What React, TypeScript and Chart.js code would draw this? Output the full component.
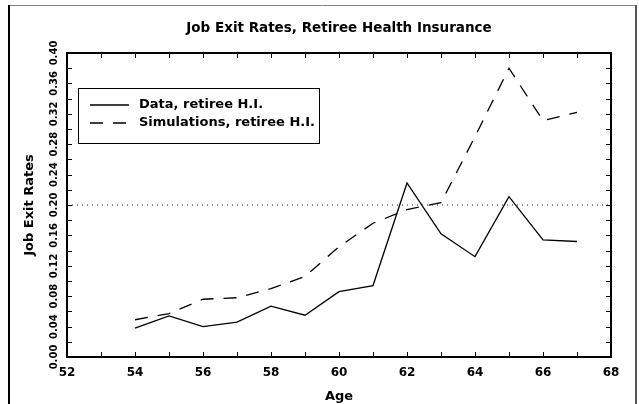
import React, { useEffect, useRef } from "react";
import { Chart, registerables } from "chart.js";

Chart.register(...registerables);

const chartTitle = "Job Exit Rates, Retiree Health Insurance";
const xAxisTitle = "Age";
const yAxisTitle = "Job Exit Rates";
const seriesLabels = ["Data, retiree H.I.", "Simulations, retiree H.I."];

const ages = [54, 55, 56, 57, 58, 59, 60, 61, 62, 63, 64, 65, 66, 67];
const dataRates = [0.038, 0.054, 0.04, 0.046, 0.067, 0.055, 0.086, 0.094, 0.229, 0.162, 0.132, 0.211, 0.154, 0.152];
const simRates = [0.049, 0.057, 0.076, 0.078, 0.09, 0.106, 0.145, 0.176, 0.194, 0.203, 0.29, 0.38, 0.311, 0.322];
const referenceRate = 0.2;

const xRange = [52, 68];
const yRange = [0, 0.4];
const xTickStep = 2;
const yTickStep = 0.04;

const FONT = "'DejaVu Sans', sans-serif";

const decorPlugin = {
  id: "decor",
  afterDraw(chart: any) {
    const { ctx, chartArea: a, scales } = chart;
    const xs = scales.x;
    const ys = scales.y;
    ctx.save();
    // outer frame
    ctx.lineWidth = 1;
    ctx.strokeStyle = "#808080";
    ctx.beginPath();
    ctx.moveTo(9, 5.5);
    ctx.lineTo(636, 5.5);
    ctx.stroke();
    ctx.lineWidth = 2;
    ctx.strokeStyle = "#000";
    ctx.beginPath();
    ctx.moveTo(9, 5);
    ctx.lineTo(9, 404);
    ctx.stroke();
    ctx.strokeStyle = "#555";
    ctx.beginPath();
    ctx.moveTo(636, 5);
    ctx.lineTo(636, 404);
    ctx.stroke();

    // plot top/right border
    ctx.strokeStyle = "#000";
    ctx.lineWidth = 2;
    ctx.beginPath();
    ctx.moveTo(a.left, a.top);
    ctx.lineTo(a.right, a.top);
    ctx.lineTo(a.right, a.bottom);
    ctx.stroke();

    // inward ticks
    ctx.lineWidth = 1;
    ctx.beginPath();
    const nx = Math.round((xRange[1] - xRange[0]) / (xTickStep / 2));
    for (let i = 0; i <= nx; i++) {
      const v = xRange[0] + (i * xTickStep) / 2;
      const px = Math.round(xs.getPixelForValue(v)) + 0.5;
      ctx.moveTo(px, a.bottom);
      ctx.lineTo(px, a.bottom - 5);
      ctx.moveTo(px, a.top);
      ctx.lineTo(px, a.top + 5);
    }
    const ny = Math.round((yRange[1] - yRange[0]) / (yTickStep / 2));
    for (let i = 0; i <= ny; i++) {
      const v = yRange[0] + (i * yTickStep) / 2;
      const py = Math.round(ys.getPixelForValue(v)) + 0.5;
      ctx.moveTo(a.left, py);
      ctx.lineTo(a.left + 5, py);
      ctx.moveTo(a.right, py);
      ctx.lineTo(a.right - 5, py);
    }
    ctx.stroke();

    // legend
    const lx = 78.5;
    const ly = 88.5;
    const lw = 241;
    const lh = 55;
    ctx.strokeStyle = "#000";
    ctx.lineWidth = 1;
    ctx.strokeRect(lx, ly, lw, lh);
    const items = chart.data.datasets.filter((d: any) => d.label);
    ctx.font = `bold 13px ${FONT}`;
    ctx.textBaseline = "middle";
    ctx.textAlign = "left";
    ctx.fillStyle = "#000";
    items.forEach((d: any, i: number) => {
      const ry = 105 + i * 18;
      ctx.beginPath();
      ctx.setLineDash(d.borderDash || []);
      ctx.lineWidth = d.borderWidth;
      ctx.strokeStyle = d.borderColor;
      ctx.moveTo(90, ry);
      ctx.lineTo(129, ry);
      ctx.stroke();
      ctx.setLineDash([]);
      ctx.fillText(d.label, 139, ry);
    });
    ctx.restore();
  },
};

export default function App() {
  const ref = useRef<HTMLCanvasElement>(null);
  useEffect(() => {
    if (!ref.current) return;
    const chart = new Chart(ref.current, {
      type: "line",
      data: {
        datasets: [
          {
            label: "",
            data: [
              { x: xRange[0], y: referenceRate },
              { x: xRange[1], y: referenceRate },
            ],
            borderColor: "#222",
            borderWidth: 1,
            borderDash: [1, 4],
            pointRadius: 0,
          },
          {
            label: seriesLabels[0],
            data: ages.map((a, i) => ({ x: a, y: dataRates[i] })),
            borderColor: "#000",
            borderWidth: 1.3,
            pointRadius: 0,
            tension: 0,
          },
          {
            label: seriesLabels[1],
            data: ages.map((a, i) => ({ x: a, y: simRates[i] })),
            borderColor: "#000",
            borderWidth: 1.3,
            borderDash: [13, 10],
            pointRadius: 0,
            tension: 0,
          },
        ],
      },
      options: {
        animation: false,
        responsive: false,
        devicePixelRatio: 1,
        layout: { padding: { left: 0, right: 28, top: 0, bottom: 0 } },
        plugins: {
          legend: { display: false },
          tooltip: { enabled: false },
          title: {
            display: true,
            text: chartTitle,
            fullSize: false,
            color: "#000",
            font: { family: FONT, size: 13.5, weight: "bold" },
            padding: { top: 20, bottom: 16.8 },
          },
        },
        scales: {
          x: {
            type: "linear",
            min: xRange[0],
            max: xRange[1],
            afterFit: (s: any) => {
              s.height = 47;
            },
            grid: { display: false, drawTicks: false },
            border: { display: true, color: "#000", width: 2 },
            ticks: {
              stepSize: xTickStep,
              autoSkip: false,
              maxRotation: 0,
              color: "#000",
              padding: 9,
              font: { family: FONT, size: 12, weight: "bold" },
            },
            title: {
              display: true,
              text: xAxisTitle,
              color: "#000",
              font: { family: FONT, size: 13, weight: "bold" },
              padding: { top: 0, bottom: 0 },
            },
          },
          y: {
            type: "linear",
            min: yRange[0],
            max: yRange[1],
            afterFit: (s: any) => {
              s.width = 67;
            },
            grid: { display: false, drawTicks: false },
            border: { display: true, color: "#000", width: 2 },
            ticks: {
              stepSize: yTickStep,
              autoSkip: false,
              minRotation: 90,
              maxRotation: 90,
              crossAlign: "center",
              padding: 0,
              color: "#000",
              font: { family: FONT, size: 10, weight: "bold" },
              callback: (v: any) => Number(v).toFixed(2),
            },
            title: {
              display: true,
              text: yAxisTitle,
              color: "#000",
              font: { family: FONT, size: 13, weight: "bold" },
              padding: { top: 22, bottom: 0 },
            },
          },
        },
      },
      plugins: [decorPlugin],
    } as any);
    return () => chart.destroy();
  }, []);
  return (
    <div style={{ position: "absolute", left: 0, top: 0, width: 639, height: 404 }}>
      <canvas ref={ref} width={639} height={404} />
    </div>
  );
}
